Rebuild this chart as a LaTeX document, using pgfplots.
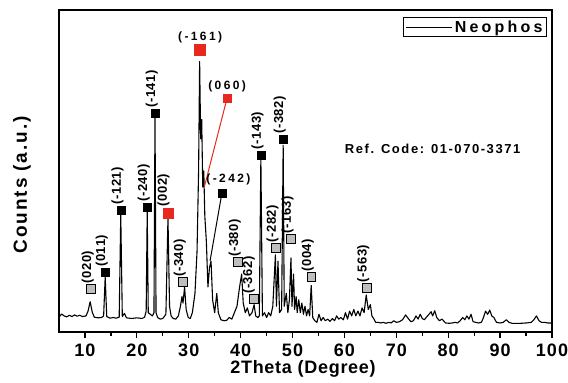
\documentclass[border=0pt]{standalone}
\usepackage{fontspec}
\setmainfont{Liberation Sans}
\newfontfamily\ftick[LetterSpace=6]{Liberation Sans}
\newfontfamily\flab[LetterSpace=4]{Liberation Sans}
\newfontfamily\fylab[LetterSpace=10]{Liberation Sans}
\newfontfamily\fleg[LetterSpace=20]{Liberation Sans}
\newfontfamily\fref[LetterSpace=12]{Liberation Sans}
\newfontfamily\fpk[LetterSpace=5]{Liberation Sans}
\newfontfamily\fph[LetterSpace=20]{Liberation Sans}
\usepackage{pgfplots}
\pgfplotsset{compat=1.18}
\definecolor{mred}{RGB}{232,40,30}
\definecolor{mgray}{RGB}{190,190,190}
\tikzset{
  vlab/.style={rotate=90, anchor=base west, inner sep=0pt, font=\fpk\bfseries\fontsize{13}{13}\selectfont},
  hlab/.style={anchor=base, inner sep=0pt, font=\fph\bfseries\fontsize{12}{12}\selectfont},
}
\begin{document}
\begin{tikzpicture}
\useasboundingbox (-59pt,-51pt) rectangle (509pt,332pt);
\begin{axis}[
  at={(0,0)}, anchor=south west,
  scale only axis, width=493pt, height=322pt,
  xmin=5, xmax=100, ymin=0, ymax=100,
  axis line style={line width=1.6pt},
  ytick=\empty,
  xtick={10,20,...,100},
  xticklabels={10,20,30,40,50,60,70,80,90,100},
  minor x tick num=1,
  tick align=outside,
  xtick pos=bottom,
  major tick length=6pt, minor tick length=4pt,
  every tick/.style={line width=1.3pt, black},
  xticklabel style={font=\ftick\bfseries\fontsize{18}{18}\selectfont, anchor=center, yshift=-12pt},
  xlabel={2Theta (Degree)}, ylabel={Counts (a.u.)},
  xlabel style={at={(axis description cs:0.495,-0.114)}, anchor=center, font=\flab\bfseries\fontsize{18}{18}\selectfont},
  ylabel style={at={(axis description cs:-0.075,0.457)}, anchor=center, font=\fylab\bfseries\fontsize{19}{19}\selectfont},
  legend style={at={(axis description cs:0.99,0.978)}, anchor=north east, draw=black, line width=1.2pt,
     font=\fleg\bfseries\fontsize{16}{16}\selectfont, inner xsep=2pt, inner ysep=1pt,
     nodes={inner xsep=2pt}},
  legend image code/.code={\draw[line width=1.1pt] (-6pt,0pt) -- (40pt,0pt);},
]
% measured pattern
\addplot[black, line width=1.1pt, line join=round] coordinates {
(5.0,4.6) (5.5,5.6) (6.0,5.0) (6.5,4.7) (7.0,5.2) (7.5,4.8) (8.0,5.3) (8.5,4.9) (9.0,5.2) (9.5,4.8)
(10.2,5.0) (10.6,6.5) (11.0,9.4) (11.4,6.2) (11.8,4.6) (12.5,4.4) (13.2,4.5) (13.6,5.0) (13.9,17.0) (14.2,4.8)
(14.8,4.3) (15.5,4.5) (16.0,4.3) (16.6,4.6) (16.9,36.5) (17.2,4.8) (17.6,5.8) (18.0,4.4) (19.0,4.2) (20.0,4.4)
(21.0,4.2) (21.5,4.6) (21.8,6.5) (22.0,37.5) (22.2,6.0) (22.6,5.5) (23.0,5.0) (23.3,6.0) (23.5,67.0) (23.7,6.0)
(24.0,4.5) (24.5,4.0) (25.0,4.2) (25.6,5.5) (26.0,35.5) (26.3,8.0) (26.6,5.0) (27.0,4.2) (27.5,4.0) (28.0,5.0)
(28.4,8.0) (28.7,11.0) (28.9,9.0) (29.2,14.0) (29.5,7.0) (29.9,4.5) (30.3,4.2) (30.7,6.0) (31.2,12.0) (31.6,25.0)
(31.9,50.0) (32.1,84.0) (32.3,60.0) (32.5,66.0) (32.7,45.0) (32.9,50.0) (33.1,36.0) (33.4,28.0) (33.7,14.0) (34.0,20.0)
(34.3,22.0) (34.6,10.0) (35.0,6.0) (35.4,12.0) (35.7,6.0) (36.2,3.8) (36.8,3.5) (37.3,3.6) (37.8,4.5) (38.3,4.0)
(38.8,6.0) (39.3,8.0) (39.8,14.0) (40.2,18.0) (40.5,9.0) (40.9,6.0) (41.3,7.5) (41.7,5.0) (42.2,6.0) (42.6,8.5)
(42.9,5.0) (43.3,4.5) (43.6,5.0) (43.9,54.0) (44.2,5.0) (44.6,6.0) (45.0,4.5) (45.4,6.0) (45.8,5.0) (46.2,8.0)
(46.7,24.0) (46.9,8.0) (47.2,22.0) (47.5,6.0) (47.9,7.0) (48.2,58.0) (48.4,8.0) (48.8,12.0) (49.1,6.0) (49.4,10.0)
(49.7,23.0) (49.9,8.0) (50.2,18.0) (50.4,7.0) (50.7,11.0) (50.9,6.0) (51.2,10.0) (51.5,6.0) (51.8,9.0) (52.1,5.5)
(52.4,8.0) (52.7,5.0) (53.0,7.0) (53.3,5.0) (53.6,14.5) (53.9,4.5) (54.3,3.5) (54.7,3.0) (55.1,5.5) (55.5,3.5)
(55.9,4.5) (56.3,3.5) (56.8,4.0) (57.2,3.3) (57.7,4.2) (58.1,3.5) (58.5,5.0) (58.9,4.0) (59.3,4.5) (59.8,3.8)
(60.2,6.0) (60.6,4.0) (61.0,6.5) (61.4,5.0) (61.8,7.0) (62.2,5.0) (62.6,6.5) (63.0,5.0) (63.4,7.5) (63.8,6.0)
(64.2,11.5) (64.6,7.0) (65.0,8.5) (65.3,5.0) (65.7,4.0) (66.0,3.0) (66.5,3.0) (67.0,2.8) (67.5,3.0) (68.0,2.7)
(68.6,3.0) (69.0,2.8) (69.5,3.5) (70.0,3.0) (70.6,3.2) (71.2,3.8) (71.8,5.3) (72.3,4.2) (72.8,3.2) (73.3,3.5)
(73.8,5.0) (74.2,4.0) (74.6,5.5) (75.0,4.2) (75.4,3.8) (75.8,4.6) (76.3,5.5) (76.7,6.3) (77.0,5.0) (77.4,6.6)
(77.8,4.5) (78.3,3.5) (78.8,4.0) (79.5,2.8) (80.2,2.7) (80.8,2.8) (81.3,3.0) (81.8,2.8) (82.3,3.5) (82.8,4.5)
(83.2,3.8) (83.6,5.0) (84.0,4.0) (84.4,5.5) (84.8,3.2) (85.3,3.0) (85.8,2.8) (86.4,3.0) (86.8,4.5) (87.2,6.5)
(87.6,5.5) (88.0,6.8) (88.4,5.0) (88.8,4.5) (89.3,3.0) (90.0,2.8) (90.6,3.0) (91.2,3.8) (91.7,3.0) (92.3,2.7)
(93.0,2.7) (94.0,2.7) (95.0,2.8) (96.0,3.0) (96.5,3.8) (97.0,5.0) (97.5,3.5) (98.0,3.0) (98.6,3.0) (99.2,2.8)
(100.0,2.8)
};
\addlegendentry{Neophos}
% leader lines
\addplot[mred, line width=1pt, forget plot] coordinates {(33.0,45) (37.4,72.7)};
\addplot[black, line width=1pt, forget plot] coordinates {(34.1,22) (36.4,43.2)};
% black markers
\addplot[only marks, mark=square*, mark size=4pt, mark options={fill=black, draw=black}, forget plot] coordinates {
(13.9,18.6) (16.9,37.9) (22.0,38.8) (23.5,68.0) (36.4,43.2) (43.9,55.0) (48.2,59.9)};
% gray markers
\addplot[only marks, mark=square*, mark size=4.3pt, mark options={fill=mgray, draw=black, line width=0.8pt}, forget plot] coordinates {
(11.2,13.4) (28.9,15.5) (39.5,21.7) (42.6,10.2) (46.8,26.1) (49.7,28.9) (53.6,17.1) (64.3,13.7)};
% red markers
\addplot[only marks, mark=square*, mark size=5.5pt, mark options={fill=mred, draw=mred}, forget plot] coordinates {(32.2,87.6)};
\addplot[only marks, mark=square*, mark size=5pt, mark options={fill=mred, draw=mred}, forget plot] coordinates {(26.0,37.0)};
\addplot[only marks, mark=square*, mark size=4pt, mark options={fill=mred, draw=mred}, forget plot] coordinates {(37.4,72.7)};
% vertical labels
\node[vlab] at ([yshift=5pt]axis cs:11.2,13.4) {(020)};
\node[vlab] at ([yshift=5pt]axis cs:13.9,18.6) {(011)};
\node[vlab] at ([yshift=5pt]axis cs:16.9,37.9) {(-121)};
\node[vlab] at ([yshift=5pt]axis cs:22.0,38.8) {(-240)};
\node[vlab] at ([yshift=5pt]axis cs:23.5,68.0) {(-141)};
\node[vlab] at ([yshift=6pt,xshift=-1pt]axis cs:26.0,37.0) {(002)};
\node[vlab] at ([yshift=5pt]axis cs:28.9,15.5) {(-340)};
\node[vlab] at ([yshift=5pt]axis cs:39.5,21.7) {(-380)};
\node[vlab] at ([yshift=5pt,xshift=-2pt]axis cs:42.6,10.2) {(-362)};
\node[vlab] at ([yshift=5pt]axis cs:43.9,55.0) {(-143)};
\node[vlab] at ([yshift=5pt]axis cs:46.8,26.1) {(-282)};
\node[vlab] at ([yshift=5pt]axis cs:48.2,59.9) {(-382)};
\node[vlab] at ([yshift=5pt]axis cs:49.7,28.9) {(-163)};
\node[vlab] at ([yshift=5pt]axis cs:53.6,17.1) {(004)};
\node[vlab] at ([yshift=5pt]axis cs:64.3,13.7) {(-563)};
% horizontal labels
\node[hlab] at ([yshift=9pt]axis cs:32.2,87.6) {(-161)};
\node[hlab] at ([yshift=8pt]axis cs:37.4,72.7) {(060)};
\node[hlab] at ([yshift=10pt,xshift=6.5pt]axis cs:36.4,43.2) {(-242)};
% reference code
\node[font=\fref\bfseries\fontsize{13}{13}\selectfont] at (axis cs:77.0,56.8) {Ref. Code: 01-070-3371};
\end{axis}
\end{tikzpicture}
\end{document}
